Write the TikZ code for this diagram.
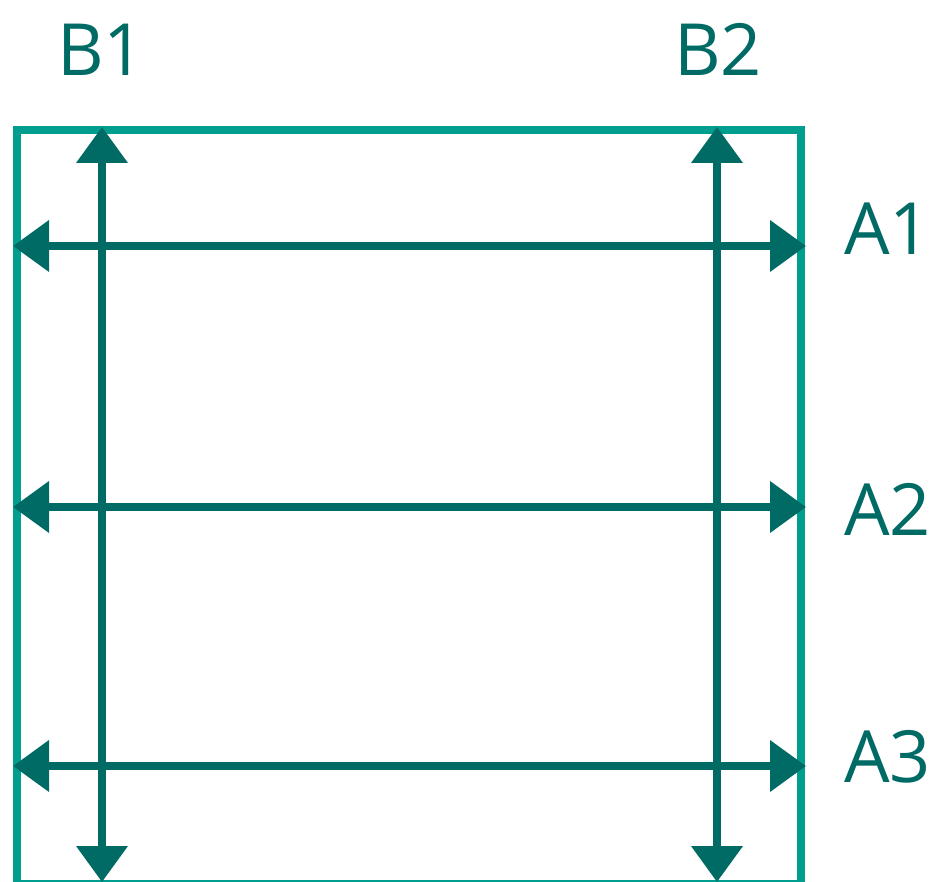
\documentclass[tikz,border=0pt]{standalone}
\usepackage{fontspec}
\setmainfont{Open Sans}
\usetikzlibrary{arrows.meta}
\definecolor{frameteal}{RGB}{0,158,142}
\definecolor{arrowteal}{RGB}{0,106,100}
\tikzset{
  frame/.style={draw=frameteal, line width=8pt},
  dimarrow/.style={draw=arrowteal, line width=7.5pt, {Triangle[length=36pt,width=50pt]}-{Triangle[length=36pt,width=50pt]}},
  lbl/.style={text=arrowteal, font=\fontsize{72}{80}\selectfont, inner sep=0pt, anchor=base west}
}
\begin{document}
\begin{tikzpicture}[x=1pt,y=-1pt]
\useasboundingbox (0,0) rectangle (933,882);
\draw[frame] (17,130) rectangle (801,884);
% vertical arrow ends
\coordinate (b1t) at (102,127);
\coordinate (b1b) at (102,882);
\coordinate (b2t) at (717,127);
\coordinate (b2b) at (717,882);
% horizontal arrow ends
\coordinate (a1l) at (13,246);
\coordinate (a1r) at (806,246);
\coordinate (a2l) at (13,507);
\coordinate (a2r) at (806,507);
\coordinate (a3l) at (13,766);
\coordinate (a3r) at (806,766);
\draw[dimarrow] (b1b) -- (b1t);
\draw[dimarrow] (b2b) -- (b2t);
\draw[dimarrow] (a1l) -- (a1r);
\draw[dimarrow] (a2l) -- (a2r);
\draw[dimarrow] (a3l) -- (a3r);
\node[lbl] (B1) at (57,76) {B1};
\node[lbl] (B2) at (674,76) {B2};
\node[lbl] (A1) at (844,255) {A1};
\node[lbl] (A2) at (844,535) {A2};
\node[lbl] (A3) at (844,782) {A3};
\end{tikzpicture}
\end{document}
